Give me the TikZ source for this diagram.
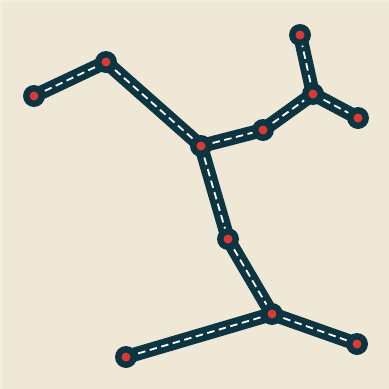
\documentclass[tikz,border=0pt]{standalone}
\begin{document}
\begin{tikzpicture}[x=1pt,y=-1pt,
  edgeline/.style={draw=darkteal,line width=14pt,line cap=round},
  dashline/.style={draw=white,line width=1.8pt,dash pattern=on 7.5pt off 4.5pt},
  vert/.style={circle,fill=darkteal,minimum size=22pt,inner sep=0pt},
  core/.style={circle,fill=dotred,minimum size=9pt,inner sep=0pt}]
\definecolor{darkteal}{HTML}{0C3441}
\definecolor{dotred}{HTML}{D93A35}
\definecolor{bgbeige}{HTML}{EFE8D7}
\definecolor{edgebeige}{HTML}{F2EEE4}
\fill[edgebeige] (0,0) rectangle (389,389);
\fill[bgbeige] (1.5,1.5) rectangle (389,389);
\useasboundingbox (0,0) rectangle (389,389);
\coordinate (A) at (34,96);
\coordinate (B) at (106,62);
\coordinate (C) at (201,146);
\coordinate (D) at (263,130);
\coordinate (E) at (313,94);
\coordinate (F) at (300,35);
\coordinate (G) at (358,118);
\coordinate (H) at (228,239);
\coordinate (I) at (272,314);
\coordinate (J) at (126,357);
\coordinate (K) at (357,344);
\foreach \p/\q in {A/B,B/C,C/D,D/E,E/F,E/G,C/H,H/I,I/J,I/K}
  \draw[edgeline] (\p) -- (\q);
\foreach \p/\q in {A/B,B/C,C/D,D/E,E/F,E/G,C/H,H/I,I/J,I/K}
  \draw[dashline] (\p) -- (\q);
\foreach \v in {A,B,C,D,E,F,G,H,I,J,K}
  \node[vert] (n\v) at (\v) {};
\foreach \v in {A,B,C,D,E,F,G,H,I,J,K}
  \node[core] at (\v) {};
\end{tikzpicture}
\end{document}
